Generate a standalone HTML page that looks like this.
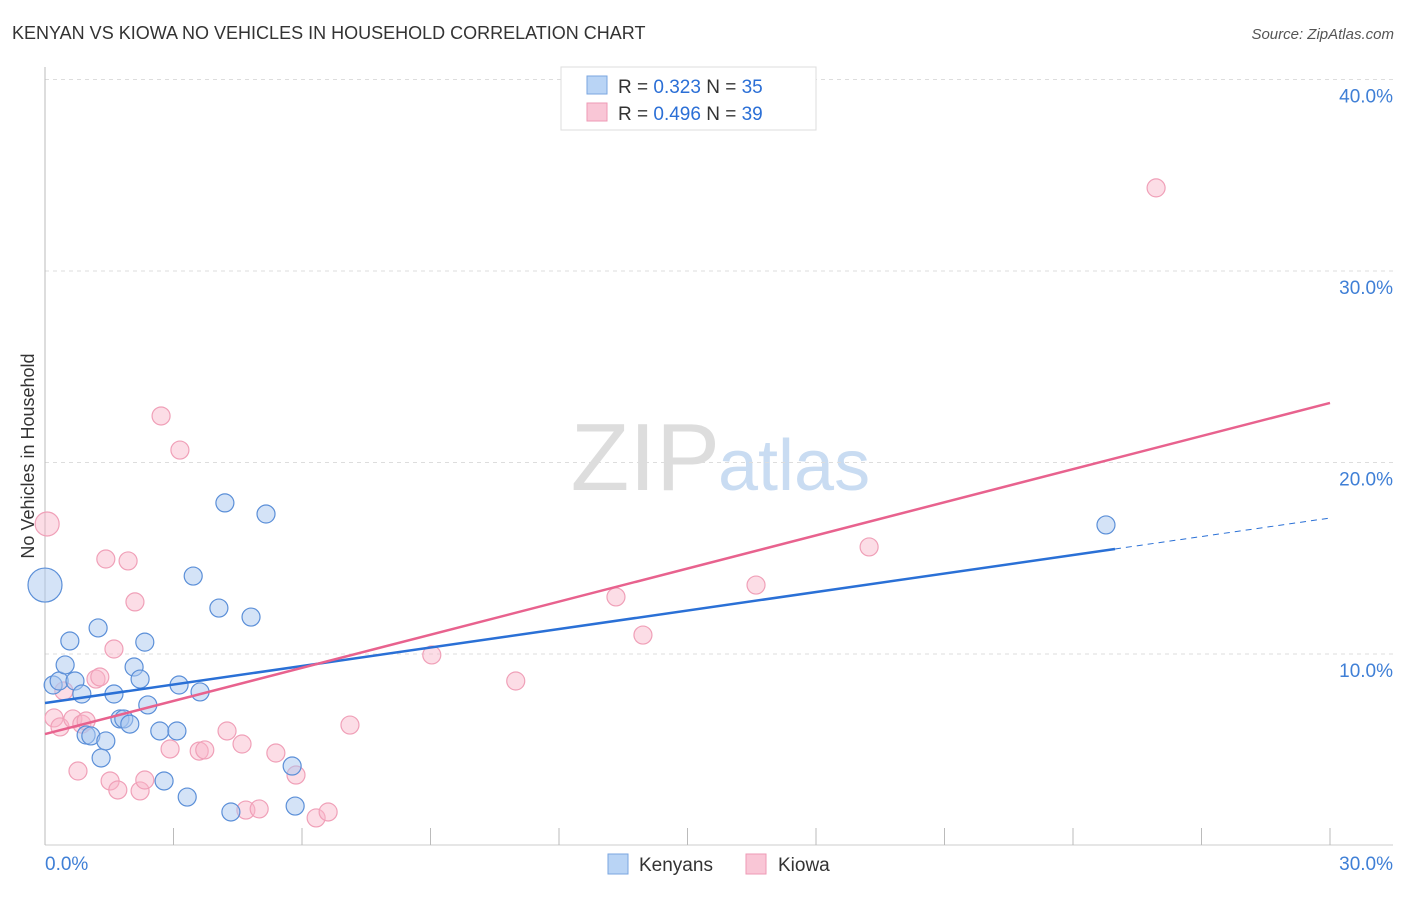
<!DOCTYPE html>
<html><head><meta charset="utf-8"><style>
body{margin:0;background:#fff;font-family:"Liberation Sans",sans-serif;}
svg text{font-family:"Liberation Sans",sans-serif;}
</style></head><body>
<svg id="c" width="1406" height="892" xmlns="http://www.w3.org/2000/svg">
<text x="12" y="39" font-size="18" fill="#333">KENYAN VS KIOWA NO VEHICLES IN HOUSEHOLD CORRELATION CHART</text>
<text x="1394" y="39" font-size="15" fill="#555" text-anchor="end" font-style="italic">Source: ZipAtlas.com</text>
<text x="720" y="490" font-size="96" fill="#ddd" text-anchor="end" font-family="Liberation Serif">ZIP</text>
<text x="718" y="490" font-size="72" fill="#c9dcf2">atlas</text>
<text transform="translate(34,456) rotate(-90)" font-size="18" fill="#333" text-anchor="middle">No Vehicles in Household</text>
<g id="grid"></g><g id="pts"></g><g id="lines"></g>
<g>
<rect x="561" y="67" width="255" height="63" fill="#fff" stroke="#ddd"/>
<rect x="587" y="76" width="20" height="18" fill="#b9d4f5" stroke="#7aa6e0"/>
<rect x="587" y="103" width="20" height="18" fill="#f9c6d6" stroke="#ee9ab5"/>
<text x="618" y="93" font-size="19" fill="#333">R = <tspan fill="#2b6fd6">0.323</tspan>    N = <tspan fill="#2b6fd6">35</tspan></text>
<text x="618" y="120" font-size="19" fill="#333">R = <tspan fill="#2b6fd6">0.496</tspan>    N = <tspan fill="#2b6fd6">39</tspan></text>
</g>
<g>
<rect x="608" y="854" width="20" height="20" fill="#b9d4f5" stroke="#7aa6e0"/>
<text x="639" y="871" font-size="19" fill="#333">Kenyans</text>
<rect x="746" y="854" width="20" height="20" fill="#f9c6d6" stroke="#ee9ab5"/>
<text x="778" y="871" font-size="19" fill="#333">Kiowa</text>
</g>
</svg>
<script>
const blueX=[0.19,0.33,0.47,0.58,0.70,0.86,0.96,1.07,1.24,1.31,1.42,1.61,1.75,1.84,1.98,2.08,2.22,2.33,2.40,2.68,2.78,3.08,3.13,3.32,3.46,3.62,4.06,4.20,4.34,4.81,5.16,5.77,5.84,24.77,0.0];
const blueY=[8.38,8.59,9.43,10.68,8.59,7.91,5.77,5.72,11.36,4.57,5.46,7.91,6.61,6.61,6.34,9.32,8.69,10.62,7.34,5.98,3.37,5.98,8.38,2.53,14.07,8.02,12.40,17.89,1.75,11.93,17.31,4.15,2.06,16.74,13.60];
const blueR=[9,9,9,9,9,9,9,9,9,9,9,9,9,9,9,9,9,9,9,9,9,9,9,9,9,9,9,9,9,9,9,9,9,9,17];
const pinkX=[0.05,0.21,0.35,0.44,0.65,0.77,0.86,0.96,1.19,1.28,1.42,1.52,1.61,1.70,1.94,2.10,2.22,2.33,2.71,2.92,3.15,3.60,3.73,4.25,4.60,4.69,5.00,5.39,5.86,6.33,6.61,7.12,9.03,10.99,13.33,13.96,16.60,19.24,25.94];
const pinkY=[16.79,6.66,6.19,8.07,6.61,3.89,6.34,6.50,8.69,8.80,14.96,3.37,10.26,2.90,14.86,12.72,2.85,3.42,22.43,5.04,20.65,4.93,4.99,5.98,5.30,1.85,1.91,4.83,3.68,1.44,1.75,6.29,9.95,8.59,12.98,10.99,13.60,15.59,34.34];
const yTicks=[10,20,30,40];
const xTickLabels=["0.0%","30.0%"];
const blueTrend=[7.44,17.10], pinkTrend=[5.82,23.11], blueSolidEnd=24.98;
const NS="http://www.w3.org/2000/svg";
const X=v=>45+v/30*1285, Y=v=>845.5-v*19.15;
function mk(t,a,p){const e=document.createElementNS(NS,t);for(const k in a)e.setAttribute(k,a[k]);p.appendChild(e);return e;}
const grid=document.getElementById('grid');
for(const t of yTicks){
 const l=mk('line',{x1:45,x2:1393,y1:Y(t),y2:Y(t),stroke:'#ddd','stroke-dasharray':'4,4'},grid);
 
 
 const tx=mk('text',{x:1393,y:Y(t)+23,'font-size':19,fill:'#3f7fd6','text-anchor':'end'},grid);
 tx.textContent=t.toFixed(1)+'%';
 
 
}
mk('line',{x1:45,x2:45,y1:67,y2:845,stroke:'#bbb'},grid);
mk('line',{x1:45,x2:1393,y1:845,y2:845,stroke:'#ccc'},grid);
for(let i=0;i<=10;i++){const x=X(i*3);const t=mk('line',{x1:x,x2:x,y1:828,y2:845,stroke:'#bbb'},grid);
 
 }
const l0=mk('text',{x:45,y:870,'font-size':19,fill:'#3f7fd6'},grid);l0.textContent=xTickLabels[0];


const l1=mk('text',{x:1393,y:870,'font-size':19,fill:'#3f7fd6','text-anchor':'end'},grid);l1.textContent=xTickLabels[1];


const pts=document.getElementById('pts');
pinkX.forEach((x,i)=>{const c=mk('circle',{cx:X(x),cy:Y(pinkY[i]),r:i==0?12:9,fill:'rgba(248,180,200,0.45)',stroke:'#f0a0b8','stroke-width':1.2},pts);
 
 });
blueX.forEach((x,i)=>{const c=mk('circle',{cx:X(x),cy:Y(blueY[i]),r:blueR[i],fill:'rgba(170,200,240,0.5)',stroke:'#5b8fd8','stroke-width':1.2},pts);
 
 });
const ln=document.getElementById('lines');
const by=x=>blueTrend[0]+(blueTrend[1]-blueTrend[0])*x/30;
let a=mk('line',{x1:X(0),y1:Y(blueTrend[0]),x2:X(blueSolidEnd),y2:Y(by(blueSolidEnd)),stroke:'#2a70d6','stroke-width':2.5},ln);


let b=mk('line',{x1:X(blueSolidEnd),y1:Y(by(blueSolidEnd)),x2:X(30),y2:Y(blueTrend[1]),stroke:'#2a70d6','stroke-width':1,'stroke-dasharray':'6,5'},ln);


let p=mk('line',{x1:X(0),y1:Y(pinkTrend[0]),x2:X(30),y2:Y(pinkTrend[1]),stroke:'#e8628e','stroke-width':2.5},ln);


</script>
</body></html>
